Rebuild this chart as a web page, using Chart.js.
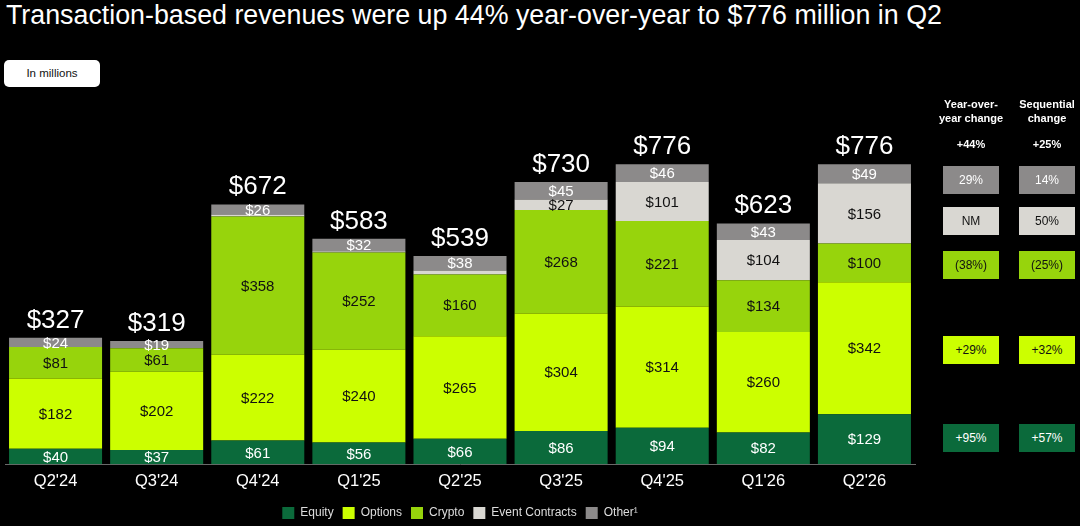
<!DOCTYPE html>
<html>
<head>
<meta charset="utf-8">
<script src="https://cdn.jsdelivr.net/npm/chart.js@4.4.1/dist/chart.umd.min.js"></script>
<style>
  html, body { margin: 0; padding: 0; background: #000; }
  body { width: 1080px; height: 526px; position: relative; overflow: hidden; font-family: "Liberation Sans", Arial, Helvetica, sans-serif; }
  #title { position: absolute; left: 6px; top: 2px; font-size: 26.8px; line-height: 1; color: #fff; white-space: nowrap; }
  #unit { position: absolute; left: 4px; top: 60px; width: 96px; height: 27px; background: #fff; border-radius: 5px; color: #111; font-size: 11.5px; line-height: 27px; text-align: center; }
  #wrap { position: absolute; left: 0; top: 0; width: 1080px; height: 526px; }
  .hdr { position: absolute; top: 97px; width: 80px; text-align: center; color: #fff; font-weight: bold; font-size: 11px; line-height: 14px; }
  .tot { position: absolute; top: 138px; width: 80px; text-align: center; color: #fff; font-weight: bold; font-size: 11px; }
  .cell { position: absolute; width: 56px; height: 28px; line-height: 28px; text-align: center; font-size: 12px; }
</style>
</head>
<body>
<div id="title">Transaction-based revenues were up 44% year-over-year to $776 million in Q2</div>
<div id="unit">In millions</div>
<div id="wrap"><canvas id="chart"></canvas></div>
<div id="side"></div>
<script>
// datos del grafico
const categories = ["Q2'24", "Q3'24", "Q4'24", "Q1'25", "Q2'25", "Q3'25", "Q4'25", "Q1'26", "Q2'26"];
const equity = [40, 37, 61, 56, 66, 86, 94, 82, 129];
const options = [182, 202, 222, 240, 265, 304, 314, 260, 342];
const crypto = [81, 61, 358, 252, 160, 268, 221, 134, 100];
const eventContracts = [0, 0, 5, 3, 10, 27, 101, 104, 156];
const other = [24, 19, 26, 32, 38, 45, 46, 43, 49];
const totals = [327, 319, 672, 583, 539, 730, 776, 623, 776];

// tabla lateral (orden: Other, Event Contracts, Crypto, Options, Equity)
const yoyChange = ['29%', 'NM', '(38%)', '+29%', '+95%'];
const seqChange = ['14%', '50%', '(25%)', '+32%', '+57%'];
const yoyTotal = '+44%';
const seqTotal = '+25%';

const FONT = '"Liberation Sans", Arial, Helvetica, sans-serif';
const colors = {
    equity: '#0b6a3b',
    options: '#ccff00',
    crypto: '#97d40c',
    event: '#d9d7d2',
    other: '#8c8a8a'
};

// Construir la tabla de la derecha
function buildSide() {
    const side = document.getElementById('side');
    const rowTops = [166, 207, 251, 336, 424];
    const rowStyle = [
        { bg: colors.other, fg: '#fff' },
        { bg: colors.event, fg: '#111' },
        { bg: colors.crypto, fg: '#111' },
        { bg: colors.options, fg: '#111' },
        { bg: colors.equity, fg: '#fff' }
    ];
    let html = `
        <div class="hdr" style="left:931px">Year-over-<br>year change</div>
        <div class="hdr" style="left:1007px">Sequential<br>change</div>
        <div class="tot" style="left:931px">${yoyTotal}</div>
        <div class="tot" style="left:1007px">${seqTotal}</div>
    `;
    rowTops.forEach((top, i) => {
        const st = rowStyle[i];
        html += `<div class="cell" style="left:943px; top:${top}px; background:${st.bg}; color:${st.fg}">${yoyChange[i]}</div>`;
        html += `<div class="cell" style="left:1019px; top:${top}px; background:${st.bg}; color:${st.fg}">${seqChange[i]}</div>`;
    });
    side.innerHTML = html;
}
buildSide();

// Etiquetas dentro de las barras y totales
const barLabels = {
    id: 'barLabels',
    afterDatasetsDraw(chart) {
        const ctx = chart.ctx;
        ctx.save();
        ctx.textAlign = 'center';
        chart.data.datasets.forEach((ds, di) => {
            const meta = chart.getDatasetMeta(di);
            meta.data.forEach((bar, i) => {
                const v = ds.data[i];
                if (v < 15) return;
                ctx.font = '15px ' + FONT;
                ctx.fillStyle = ds.labelColor;
                ctx.textBaseline = 'middle';
                ctx.fillText('$' + v, bar.x, (bar.y + bar.base) / 2 + 1);
            });
        });
        const topMeta = chart.getDatasetMeta(chart.data.datasets.length - 1);
        topMeta.data.forEach((bar, i) => {
            ctx.font = '26px ' + FONT;
            ctx.fillStyle = '#fff';
            ctx.textBaseline = 'alphabetic';
            ctx.fillText('$' + totals[i], bar.x, bar.y - 10);
        });
        ctx.restore();
    }
};

const ds = (label, data, color, labelColor) => ({
    label: label,
    data: data,
    backgroundColor: color,
    borderWidth: 0,
    labelColor: labelColor,
    barPercentage: 0.92,
    categoryPercentage: 1
});

new Chart(document.getElementById('chart'), {
    type: 'bar',
    data: {
        labels: categories,
        datasets: [
            ds('Equity', equity, colors.equity, '#fff'),
            ds('Options', options, colors.options, '#111'),
            ds('Crypto', crypto, colors.crypto, '#111'),
            ds('Event Contracts', eventContracts, colors.event, '#111'),
            ds('Other\u00b9', other, colors.other, '#fff')
        ]
    },
    options: {
        responsive: true,
        maintainAspectRatio: false,
        animation: false,
        layout: { padding: { left: 5, right: 165, top: 155, bottom: -3 } },
        scales: {
            x: {
                stacked: true,
                grid: { display: false, drawTicks: false },
                border: { display: true, color: '#6a6a6a', width: 1 },
                ticks: { color: '#fff', font: { family: FONT, size: 16.5 }, padding: 7 }
            },
            y: {
                stacked: true,
                display: false,
                min: 0,
                max: 800
            }
        },
        plugins: {
            legend: {
                position: 'bottom',
                labels: {
                    color: '#ddd',
                    boxWidth: 12,
                    boxHeight: 12,
                    padding: 9,
                    font: { family: FONT, size: 12 }
                }
            },
            tooltip: { enabled: false }
        }
    },
    plugins: [barLabels]
});
</script>
</body>
</html>
